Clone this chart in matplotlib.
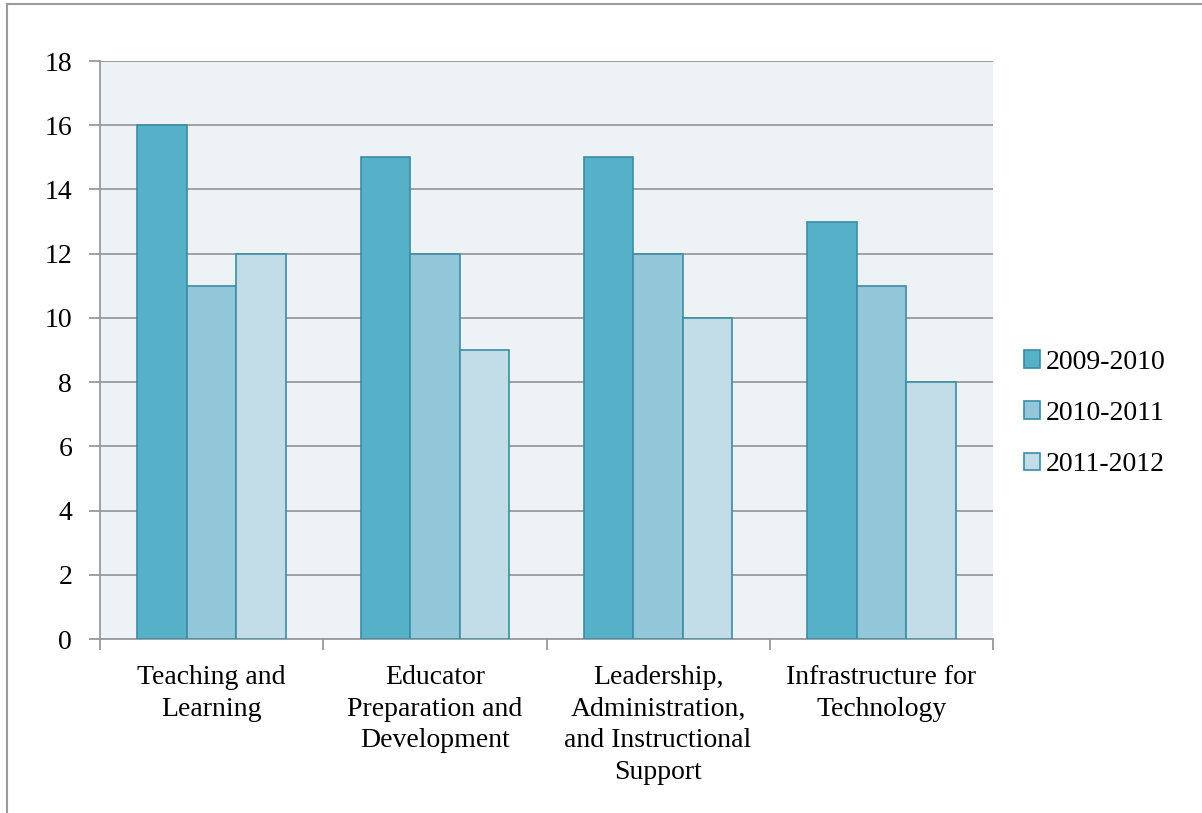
import matplotlib.pyplot as plt
import numpy as np

categories = ["Teaching and\nLearning", "Educator\nPreparation and\nDevelopment",
              "Leadership,\nAdministration,\nand Instructional\nSupport",
              "Infrastructure for\nTechnology"]
years = ["2009-2010", "2010-2011", "2011-2012"]
v2009 = [16, 15, 15, 13]
v2010 = [11, 12, 12, 11]
v2011 = [12, 9, 10, 8]
colors = ["#55b0c8", "#92c7d9", "#c2dde7"]

plt.rcParams['font.family'] = ['Liberation Serif', 'DejaVu Serif']

fig = plt.figure(figsize=(12.02, 8.13), dpi=100)
ax = fig.add_axes([100 / 1202, 1 - 639 / 813, 893 / 1202, 578 / 813])
ax.set_facecolor("#edf2f6")

x = np.arange(len(categories))
w = 0.222
for i, (vals, lab) in enumerate(zip([v2009, v2010, v2011], years)):
    ax.bar(x + (i - 1) * w, vals, w, color=colors[i], edgecolor="#3b8ea3",
           linewidth=1.2, label=lab, zorder=3)

ax.set_ylim(0, 18)
ax.set_xlim(-0.5, 3.5)
ax.set_yticks(range(0, 19, 2))
ax.yaxis.grid(True, color="#9a9a9a", linewidth=1.3, zorder=0)
ax.tick_params(axis='y', labelsize=20, length=8, color="#9a9a9a", width=1.3, pad=12)

ax.set_xticks(np.arange(-0.5, 4, 1))
ax.set_xticklabels([])
ax.tick_params(axis='x', which='major', length=8, color="#9a9a9a", width=1.3)
ax.set_xticks(x, minor=True)
ax.set_xticklabels(categories, minor=True, fontsize=20, linespacing=1.34, va="top")
ax.tick_params(axis='x', which='minor', length=0, pad=19)

for s in ["top", "right"]:
    ax.spines[s].set_visible(False)
for s in ["left", "bottom"]:
    ax.spines[s].set_color("#9a9a9a")
    ax.spines[s].set_linewidth(1.3)

ax.legend(loc="center left", bbox_to_anchor=(1.022, 0.39), frameon=False, fontsize=20,
          handlelength=0.6, handleheight=0.6, handletextpad=0.2, labelspacing=0.95,
          borderaxespad=0)

fig.add_artist(plt.Line2D([6.5 / 1202, 6.5 / 1202], [0, 1 - 4 / 813], color="#9a9a9a", linewidth=1.5))
fig.add_artist(plt.Line2D([6.5 / 1202, 1], [1 - 4 / 813, 1 - 4 / 813], color="#9a9a9a", linewidth=1.5))

fig.savefig("out.png", dpi=100)
